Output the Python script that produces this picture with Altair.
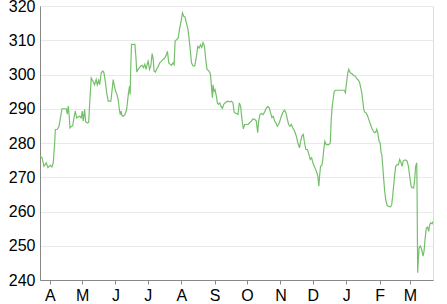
import altair as alt
import pandas as pd

start_date = "2010-03-23"
day_offsets = [0, 1.9, 3.7, 5.8, 7.4, 9.5, 11.1, 12.3, 13.6, 14.2, 16.0, 17.6, 19.2, 20.4, 22.9, 24.4, 25.3, 26.2, 27.1, 27.8,
    29.0, 30.3, 31.5, 32.7, 34.0, 35.2, 36.8, 38.2, 39.2, 40.1, 41.4, 42.3, 43.8, 45.1, 46.3, 47.5, 49.1, 50.6, 52.1, 53.1,
    54.4, 55.3, 56.8, 58.3, 59.3, 60.8, 61.8, 63.2, 65.7, 66.9, 67.9, 68.8, 70.1, 71.3, 72.5, 73.4, 74.4, 75.3, 75.9, 77.1,
    78.7, 80.3, 81.2, 82.1, 83.1, 83.6, 84.3, 84.9, 86.4, 88.0, 88.9, 89.8, 91.0, 92.3, 93.5, 94.7, 96.0, 97.2, 98.4, 99.7,
    100.3, 101.6, 102.8, 104.0, 104.9, 105.8, 107.1, 108.3, 109.5, 111.1, 112.7, 114.2, 115.7, 117.3, 118.2, 119.4, 120.4,
    121.9, 123.4, 124.4, 125.3, 126.6, 128.1, 129.6, 131.2, 132.1, 133.3, 134.5, 135.8, 137.3, 138.2, 139.5, 140.5, 141.9,
    143.5, 145.1, 146.3, 147.5, 148.8, 150.0, 151.2, 152.5, 153.7, 154.9, 156.8, 158.1, 159.0, 159.9, 160.5, 161.4, 162.3,
    163.6, 164.5, 165.5, 166.7, 167.9, 169.2, 170.4, 171.6, 172.9, 174.4, 175.9, 177.5, 179.0, 179.9, 180.6, 182.1, 183.6,
    184.9, 186.1, 187.3, 188.6, 189.8, 191.4, 192.9, 194.4, 196.0, 197.5, 199.1, 200.6, 201.9, 202.8, 204.0, 205.3, 206.8,
    208.3, 209.9, 211.4, 212.7, 213.9, 215.1, 216.4, 217.6, 218.8, 220.1, 221.3, 222.5, 223.8, 225.3, 226.9, 228.1, 229.4,
    230.6, 231.8, 233.1, 234.5, 236.1, 237.7, 239.2, 240.7, 241.7, 242.9, 244.2, 245.4, 246.6, 248.1, 249.4, 250.6, 251.9,
    253.1, 254.4, 255.6, 256.8, 257.7, 258.6, 259.3, 260.2, 261.4, 262.3, 263.2, 264.2, 265.5, 266.7, 267.9, 269.2, 270.1,
    271.0, 271.9, 272.9, 274.1, 276.2, 278.4, 280.3, 282.1, 283.3, 284.3, 285.5, 286.4, 287.7, 288.9, 290.1, 291.4, 292.6,
    293.8, 295.1, 296.3, 297.5, 298.4, 299.4, 300.3, 301.2, 302.5, 303.7, 304.9, 305.8, 307.7, 309.0, 310.2, 311.4, 312.3,
    313.2, 314.5, 315.5, 316.4, 317.0, 317.9, 318.8, 319.7, 320.6, 321.9, 323.8, 325.3, 326.2, 327.1, 328.1, 329.0, 329.9,
    331.2, 332.4, 333.6, 334.9, 335.8, 336.8, 338.0, 339.2, 340.5, 341.7, 342.9, 344.2, 345.4, 346.6, 347.5, 348.4, 349.4,
    349.7, 350.0, 350.3, 350.9, 351.6, 352.8, 354.0, 355.3, 356.2, 357.1, 358.3, 359.5, 360.5, 361.4, 362.3, 363.6, 364.5]

values = [276.3, 275.7, 273.2, 274.2, 272.8, 273.5, 273.0, 274.2, 280.0, 283.9, 284.0, 284.8, 287.8, 290.0, 290.0, 290.0,
    288.4, 290.8, 287.8, 284.4, 284.8, 285.0, 287.3, 289.3, 287.3, 287.6, 287.8, 287.3, 289.3, 286.4, 289.8, 286.3, 285.8,
    286.0, 292.7, 299.0, 298.0, 297.0, 298.5, 297.0, 298.3, 297.0, 300.5, 301.0, 300.5, 297.5, 294.7, 292.2, 292.2, 295.6,
    298.5, 297.0, 295.1, 294.2, 292.7, 290.3, 288.3, 289.3, 288.0, 287.8, 288.3, 289.7, 292.2, 294.7, 296.6, 294.2, 303.4,
    308.8, 308.8, 308.8, 305.3, 300.7, 301.5, 302.0, 302.5, 302.7, 302.0, 303.0, 301.5, 303.4, 303.9, 301.5, 302.5, 306.1,
    304.8, 301.0, 300.7, 301.7, 302.3, 303.4, 303.9, 304.4, 304.8, 305.8, 306.8, 303.4, 303.1, 302.7, 303.4, 302.9, 309.7,
    310.2, 310.6, 313.6, 316.1, 318.0, 317.0, 316.8, 315.0, 313.1, 310.7, 306.8, 303.4, 302.5, 302.5, 305.3, 308.2, 307.7,
    308.7, 307.9, 309.3, 308.3, 304.4, 301.5, 301.0, 300.0, 296.6, 293.2, 297.0, 295.1, 295.6, 293.7, 291.7, 291.3, 291.7,
    290.7, 290.1, 291.3, 291.7, 292.0, 292.2, 292.0, 292.2, 291.7, 289.3, 288.8, 288.6, 288.3, 291.7, 290.7, 286.9, 284.1,
    285.4, 285.4, 285.4, 285.9, 286.4, 287.0, 286.9, 286.4, 283.0, 286.4, 288.3, 288.6, 288.3, 289.0, 290.2, 290.7, 290.2,
    288.8, 287.4, 287.8, 286.4, 285.9, 284.9, 285.4, 286.4, 287.8, 289.0, 289.6, 288.8, 287.0, 285.4, 284.9, 285.4, 284.4,
    283.5, 282.0, 280.0, 278.6, 280.5, 282.0, 282.5, 280.0, 278.1, 278.1, 276.7, 275.2, 275.7, 274.2, 273.2, 272.3, 271.3,
    270.3, 267.4, 270.3, 273.2, 273.4, 275.2, 278.1, 280.5, 279.5, 279.5, 279.5, 280.0, 286.9, 290.7, 292.7, 295.1, 295.4,
    295.4, 295.4, 295.4, 295.4, 294.7, 297.6, 300.5, 301.5, 300.5, 300.3, 300.0, 299.6, 299.4, 298.8, 298.4, 297.8, 296.2,
    294.7, 292.2, 289.8, 289.0, 288.8, 288.0, 286.9, 286.1, 284.4, 283.5, 283.0, 283.2, 284.0, 283.0, 280.5, 280.0, 277.1,
    276.6, 273.2, 269.3, 265.9, 263.5, 261.8, 261.4, 261.4, 262.0, 264.5, 267.9, 270.8, 273.2, 273.7, 273.7, 275.2, 274.2,
    273.2, 274.7, 275.0, 275.0, 274.7, 273.2, 270.3, 267.4, 266.9, 266.9, 269.3, 273.2, 274.2, 267.4, 253.8, 242.1, 246.0,
    249.4, 249.9, 248.9, 247.0, 248.4, 251.8, 255.2, 255.4, 254.2, 256.1, 256.7, 256.4, 257.1]

y_ticks = [240, 250, 260, 270, 280, 290, 300, 310, 320]

df = pd.DataFrame({
    "date": pd.Timestamp(start_date) + pd.to_timedelta(day_offsets, unit="D"),
    "value": values,
})

FONT = "Liberation Sans"

chart = (
    alt.Chart(df)
    .mark_line(color="#74c06a", strokeWidth=1.2)
    .encode(
        x=alt.X(
            "date:T",
            title=None,
            scale=alt.Scale(nice=False),
            axis=alt.Axis(
                format="%b",
                labelExpr="substring(datum.label, 0, 1)",
                tickCount={"interval": "month", "step": 1},
                grid=False,
                tickSize=4,
                labelPadding=3,
                labelFontSize=16,
                labelColor="#000",
                domainColor="#888",
                tickColor="#888",
                labelFont=FONT,
            ),
        ),
        y=alt.Y(
            "value:Q",
            title=None,
            scale=alt.Scale(domain=[240, 320], nice=False, zero=False),
            axis=alt.Axis(
                values=y_ticks,
                ticks=False,
                labelPadding=5,
                labelFontSize=16,
                labelColor="#000",
                domainColor="#888",
                gridColor="#e9e9e9",
                labelFont=FONT,
            ),
        ),
    )
    .properties(
        width=393,
        height=274,
        autosize=alt.AutoSizeParams(type="none"),
        padding={"left": 40, "top": 6, "right": 14, "bottom": 24},
    )
    .configure_view(stroke="#888", strokeWidth=1)
    .configure(background="white")
)

chart.save("out.html", embed_options={"renderer": "svg", "actions": False})
